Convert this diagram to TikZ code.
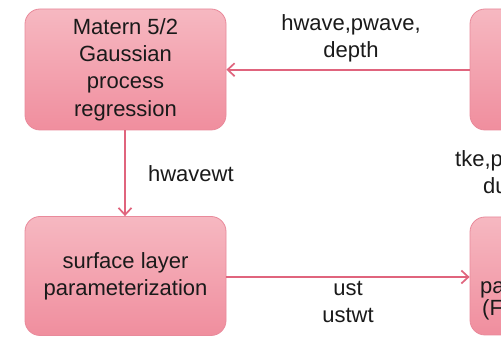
\documentclass[tikz,border=0pt]{standalone}
\usepackage{fontspec}
\setmainfont{Liberation Sans}
\usetikzlibrary{arrows.meta}
\definecolor{boxtop}{HTML}{F6B8C1}
\definecolor{boxbot}{HTML}{F08E9E}
\definecolor{boxline}{HTML}{E98A9B}
\definecolor{arrowc}{HTML}{E0647D}
\definecolor{txt}{HTML}{1A1A1A}
\begin{document}
\begin{tikzpicture}[x=1pt,y=1pt,
  procbox/.style={draw=boxline, line width=0.8pt, rounded corners=15pt,
    top color=boxtop, bottom color=boxbot, minimum width=201pt,
    minimum height=121pt, inner sep=0pt, align=center,
    font=\fontsize{22}{27.3}\selectfont, text=txt},
  lbl/.style={font=\fontsize{22}{27}\selectfont, align=center, inner sep=0pt, text=txt},
  conn/.style={draw=arrowc, line width=1.9pt,
    -{Straight Barb[length=7pt,width=13pt,line width=1.7pt]}}]
\useasboundingbox (0,0) rectangle (501,337);
\clip (0,0) rectangle (501,337);
\fill[white] (0,0) rectangle (501,337);
\node[procbox] (gpr) at (125.5,267.5) {Matern 5/2\\Gaussian\\process\\regression};
\node[procbox, minimum height=119pt] (sfc) at (125.5,61) {surface layer\\parameterization};
\node[procbox] (rt) at (570.5,267.5) {};
\node[procbox, minimum height=118pt] (rb) at (570.5,61) {};
\node[lbl, anchor=base west] (rbt1) at (480,43) {pa};
\node[lbl, anchor=base west] (rbt2) at (482,21) {(F};
\node[lbl, anchor=base west] (rl1) at (455,170) {tke,p};
\node[lbl, anchor=base west] (rl2) at (483,143) {du};
\draw[conn] (rt.west |- 0,267.3) coordinate (te) -- node[lbl, midway, above=7pt, xshift=3pt] (l1) {hwave,pwave,\\depth} (gpr.east |- te);
\draw[conn, line width=2.1pt] (gpr.south -| 125,0) coordinate (vs) -- node[lbl, midway, right=22pt] (l2) {hwavewt} (sfc.north -| vs);
\draw[conn] (sfc.east |- 0,60) coordinate (se) -- node[lbl, midway, below=3pt] (l3) {ust\\ustwt} (rb.west |- se);
\end{tikzpicture}
\end{document}
